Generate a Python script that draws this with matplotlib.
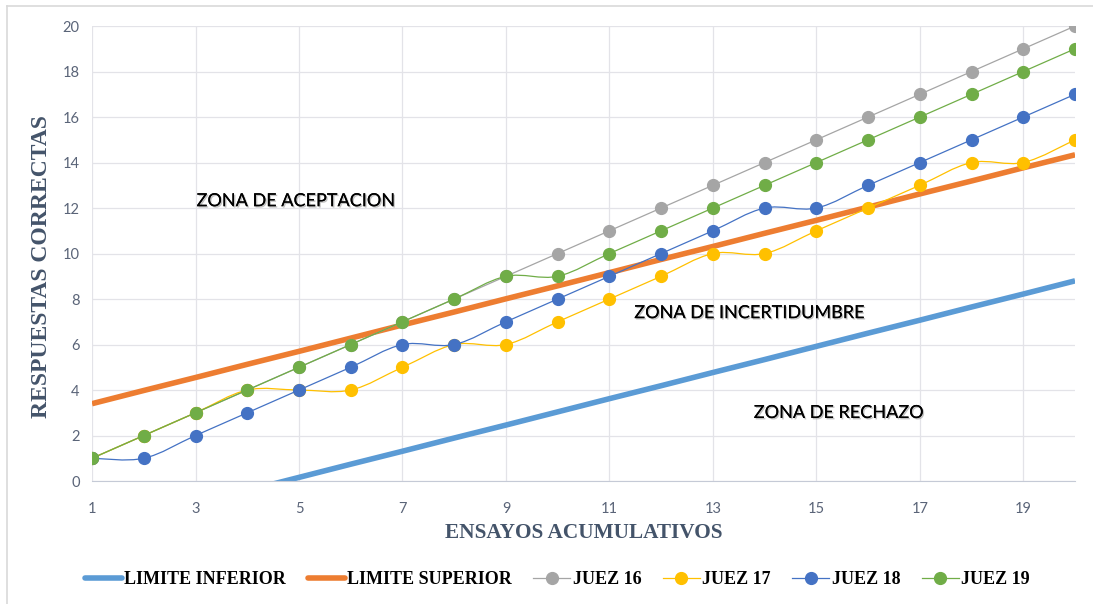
import matplotlib
matplotlib.use("Agg")
import matplotlib.pyplot as plt
import matplotlib.patheffects as pe
from matplotlib.path import Path
from matplotlib.patches import PathPatch
from matplotlib.lines import Line2D

ensayos = list(range(1, 21))
limite_inferior = [-2.14, -1.57, -0.99, -0.42, 0.16, 0.74, 1.31, 1.89, 2.46, 3.04,
                   3.62, 4.19, 4.77, 5.34, 5.92, 6.50, 7.07, 7.65, 8.22, 8.80]
limite_superior = [3.40, 3.98, 4.55, 5.13, 5.70, 6.28, 6.86, 7.43, 8.01, 8.58,
                   9.16, 9.74, 10.31, 10.89, 11.46, 12.04, 12.62, 13.19, 13.77, 14.34]
juez_16 = [1, 2, 3, 4, 5, 6, 7, 8, 9, 10, 11, 12, 13, 14, 15, 16, 17, 18, 19, 20]
juez_17 = [1, 2, 3, 4, 4, 4, 5, 6, 6, 7, 8, 9, 10, 10, 11, 12, 13, 14, 14, 15]
juez_18 = [1, 1, 2, 3, 4, 5, 6, 6, 7, 8, 9, 10, 11, 12, 12, 13, 14, 15, 16, 17]
juez_19 = [1, 2, 3, 4, 5, 6, 7, 8, 9, 9, 10, 11, 12, 13, 14, 15, 16, 17, 18, 19]

jueces = [("JUEZ 16", juez_16, "#A5A5A5"),
          ("JUEZ 17", juez_17, "#FFC000"),
          ("JUEZ 18", juez_18, "#4472C4"),
          ("JUEZ 19", juez_19, "#70AD47")]

SERIF = "Liberation Serif"
SANS = "Lato"
AXIS_COLOR = "#44546A"


def smooth_path(x, y):
    # bezier through the points, like excel's "smoothed line"
    pts = list(zip(x, y))
    verts = [pts[0]]
    codes = [Path.MOVETO]
    n = len(pts)
    for i in range(n - 1):
        p0 = pts[max(i - 1, 0)]
        p1 = pts[i]
        p2 = pts[i + 1]
        p3 = pts[min(i + 2, n - 1)]
        c1 = (p1[0] + (p2[0] - p0[0]) / 6, p1[1] + (p2[1] - p0[1]) / 6)
        c2 = (p2[0] - (p3[0] - p1[0]) / 6, p2[1] - (p3[1] - p1[1]) / 6)
        verts += [c1, c2, p2]
        codes += [Path.CURVE4] * 3
    return Path(verts, codes)


fig = plt.figure(figsize=(10.93, 6.04), dpi=100)
ax = fig.add_axes([0.0842, 0.2036, 0.8994, 0.7533])

ax.plot(ensayos, limite_inferior, color="#5B9BD5", lw=4, solid_capstyle="butt", zorder=2)
ax.plot(ensayos, limite_superior, color="#ED7D31", lw=4, solid_capstyle="butt", zorder=2)

for i, (name, vals, col) in enumerate(jueces):
    ax.add_patch(PathPatch(smooth_path(ensayos, vals), fill=False, edgecolor=col,
                           lw=0.9, zorder=3 + i))
    ax.plot(ensayos, vals, "o", color=col, markersize=8.5, zorder=3.5 + i)

ax.set_xlim(1, 20)
ax.set_ylim(0, 20)
ax.set_xticks(range(1, 20, 2))
ax.set_yticks(range(0, 21, 2))
ax.grid(True, color="#E3E3E8", lw=0.9)
ax.set_axisbelow(True)
for s in ["top", "right", "left"]:
    ax.spines[s].set_visible(False)
ax.spines["bottom"].set_color("#C5CAD6")
ax.tick_params(length=0, labelsize=10.5)
ax.tick_params(axis="x", pad=15)
ax.tick_params(axis="y", pad=9)
for lab in ax.get_xticklabels() + ax.get_yticklabels():
    lab.set_fontfamily(SANS)
    lab.set_color("#5A6478")

ax.set_xlabel("ENSAYOS ACUMULATIVOS", fontfamily=SERIF, fontweight="bold",
              fontsize=15.3, color=AXIS_COLOR)
ax.xaxis.set_label_coords(0.5, -0.092)
ax.set_ylabel("RESPUESTAS CORRECTAS", fontfamily=SERIF, fontweight="bold",
              fontsize=17, color=AXIS_COLOR)
ax.yaxis.set_label_coords(-0.041, 0.472)

shadow = [pe.withSimplePatchShadow(offset=(1, -1), shadow_rgbFace="#888888", alpha=0.5),
          pe.Normal()]
zonas = [("ZONA DE ACEPTACION", 3.02, 12.3),
         ("ZONA DE INCERTIDUMBRE", 11.48, 7.38),
         ("ZONA DE RECHAZO", 13.79, 2.99)]
for txt, zx, zy in zonas:
    ax.text(zx, zy, txt, fontfamily=SANS, fontsize=13, color="black",
            va="center", ha="left", zorder=10, path_effects=shadow)

handles = [Line2D([], [], color="#5B9BD5", lw=4, solid_capstyle="round"),
           Line2D([], [], color="#ED7D31", lw=4, solid_capstyle="round")]
labels = ["LIMITE INFERIOR", "LIMITE SUPERIOR"]
for name, vals, col in jueces:
    handles.append(Line2D([], [], color=col, lw=0.9, marker="o", markersize=8.5))
    labels.append(name)
fig.legend(handles, labels, loc="center", bbox_to_anchor=(0.51, 0.04), ncol=6,
           frameon=False, handlelength=2.05, handletextpad=0.12, columnspacing=1.2,
           prop={"family": SERIF, "weight": "bold", "size": 13})

# chart frame
fig.add_artist(Line2D([7 / 1093, 1], [1 - 6 / 604, 1 - 6 / 604], color="#D9D9D9", lw=1.2))
fig.add_artist(Line2D([7 / 1093, 7 / 1093], [0, 1 - 6 / 604], color="#D9D9D9", lw=1.2))

fig.savefig("out.png", dpi=100)
